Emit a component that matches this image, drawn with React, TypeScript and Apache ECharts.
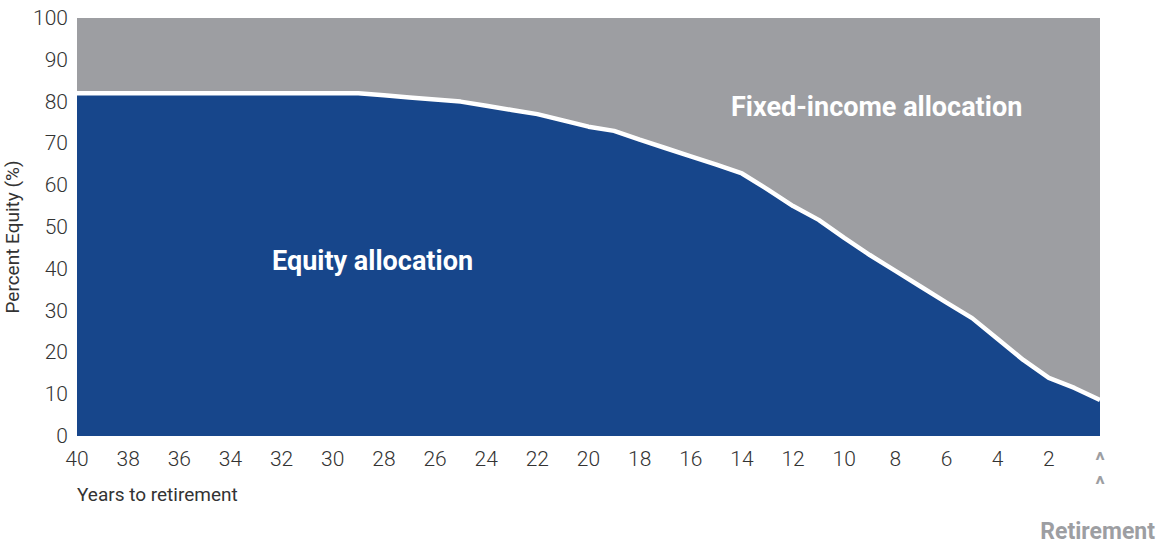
import React, { useEffect, useRef } from "react";
import * as echarts from "echarts";

const years = [40, 39, 38, 37, 36, 35, 34, 33, 32, 31, 30, 29, 28, 27, 26, 25, 24, 23, 22, 21, 20, 19, 18, 17, 16, 15, 14, 13, 12, 11, 10, 9, 8, 7, 6, 5, 4, 3, 2, 1, 0];
const equity = [82, 82, 82, 82, 82, 82, 82, 82, 82, 82, 82, 82, 81.5, 81, 80.5, 80, 79, 78, 77, 75.5, 74, 73, 70.9, 68.9, 66.9, 64.9, 62.8, 59, 55, 51.7, 47.4, 43.3, 39.5, 35.7, 31.9, 28.2, 23.2, 18.2, 13.9, 11.5, 8.6];
const yTicks = [0, 10, 20, 30, 40, 50, 60, 70, 80, 90, 100];

const BLUE = "#17468b";
const GREY = "#9d9ea2";
const FONT = "Roboto, 'Noto Sans', sans-serif";

export default function App() {
  const ref = useRef<HTMLDivElement>(null);
  useEffect(() => {
    if (!ref.current) return;
    const chart = echarts.init(ref.current, undefined, { renderer: "svg" });
    chart.setOption({
      animation: false,
      grid: {
        left: 77,
        right: 59,
        top: 18,
        bottom: 108,
        show: true,
        backgroundColor: GREY,
        borderWidth: 0,
        containLabel: false,
        outerBoundsMode: "none",
      },
      xAxis: {
        type: "value",
        inverse: true,
        min: 0,
        max: 40,
        interval: 2,
        axisLine: { show: false },
        axisTick: { show: false },
        splitLine: { show: false },
        axisLabel: {
          color: "#333",
          fontSize: 21,
          fontWeight: 300,
          fontFamily: FONT,
          margin: 12,
          formatter: (v: number) => (v === 0 ? "{c|^}\n{c|^}" : String(v)),
          rich: {
            c: { color: "#9d9ea2", fontSize: 22, fontWeight: "bold", fontFamily: FONT, lineHeight: 24 },
          },
        },
      },
      yAxis: {
        type: "value",
        min: yTicks[0],
        max: yTicks[yTicks.length - 1],
        interval: 10,
        name: "Percent Equity (%)",
        nameLocation: "middle",
        nameRotate: 90,
        nameGap: 52,
        nameTextStyle: { color: "#333", fontSize: 19, fontFamily: FONT, padding: [0, 20, 0, 0] },
        axisLine: { show: false },
        axisTick: { show: false },
        splitLine: { show: false },
        axisLabel: {
          color: "#333",
          fontSize: 21,
          fontWeight: 300,
          fontFamily: FONT,
          margin: 9,
        },
      },
      series: [
        {
          type: "line",
          data: years.map((y, i) => [y, equity[i]]),
          symbol: "none",
          lineStyle: { color: "#ffffff", width: 4.5 },
          areaStyle: { color: BLUE, opacity: 1 },
          z: 2,
        },
      ],
      graphic: [
        {
          type: "text",
          left: 272,
          top: 247,
          z: 100,
          style: { text: "Equity allocation", fill: "#fff", font: `bold 27px ${FONT}` },
        },
        {
          type: "text",
          left: 731,
          top: 93,
          z: 100,
          style: { text: "Fixed-income allocation", fill: "#fff", font: `bold 27px ${FONT}` },
        },
        {
          type: "text",
          left: 77,
          top: 485,
          z: 100,
          style: { text: "Years to retirement", fill: "#333", font: `19px ${FONT}` },
        },
        {
          type: "text",
          right: 4,
          top: 520,
          z: 100,
          style: { text: "Retirement", fill: "#9d9ea2", font: `bold 23px ${FONT}` },
        },
      ],
    });
    return () => chart.dispose();
  }, []);
  return <div ref={ref} style={{ width: 1159, height: 544, position: "absolute", left: 0, top: 0 }} />;
}
